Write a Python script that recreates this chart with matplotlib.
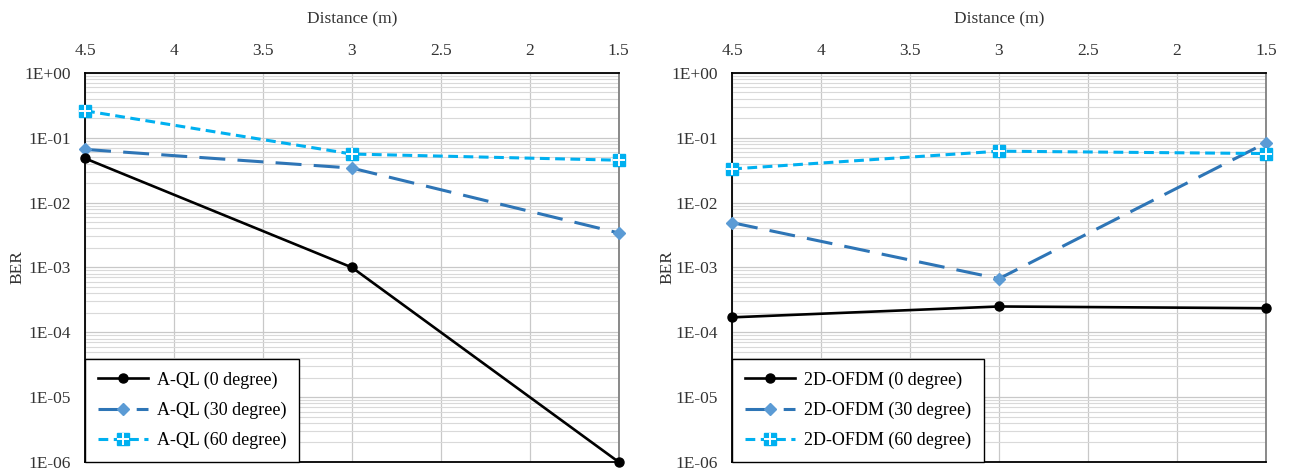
import matplotlib.pyplot as plt
from matplotlib.ticker import FixedLocator, NullFormatter

distance = [4.5, 3.0, 1.5]

aql_0 = [4.8e-2, 1.0e-3, 1.0e-6]
aql_30 = [6.6e-2, 3.4e-2, 3.4e-3]
aql_60 = [2.6e-1, 5.6e-2, 4.5e-2]

ofdm_0 = [1.7e-4, 2.5e-4, 2.35e-4]
ofdm_30 = [4.9e-3, 6.7e-4, 8.3e-2]
ofdm_60 = [3.3e-2, 6.2e-2, 5.7e-2]

x_ticks = [4.5, 4, 3.5, 3, 2.5, 2, 1.5]
x_tick_labels = ['4.5', '4', '3.5', '3', '2.5', '2', '1.5']
y_ticks = [1e0, 1e-1, 1e-2, 1e-3, 1e-4, 1e-5, 1e-6]
y_tick_labels = ['1E+00', '1E-01', '1E-02', '1E-03', '1E-04', '1E-05', '1E-06']

plt.rcParams['font.family'] = ['Liberation Serif', 'DejaVu Serif']
plt.rcParams['font.size'] = 12.5


def draw(ax, name, s0, s30, s60, label_x):
    ax.set_yscale('log')
    ax.set_xlim(4.5, 1.5)
    ax.set_ylim(1e-6, 1e0)

    l0, = ax.plot(distance, s0, color='black', lw=1.9, marker='o', ms=6.5,
                  zorder=5, clip_on=False)
    l30, = ax.plot(distance, s30, color='#2e75b6', lw=2.2, dashes=(8.5, 4),
                   marker='D', ms=6, mfc='#5b9bd5', mec='#5b9bd5', zorder=4,
                   clip_on=False)
    l60, = ax.plot(distance, s60, color='#00b0f0', lw=2.2, dashes=(3.2, 1.8),
                   marker='s', ms=8.5, mfc='#00b0f0', mec='#00b0f0', zorder=4,
                   clip_on=False)
    l60b, = ax.plot(distance, s60, ls='none', marker='+', ms=8.5, mew=1.4,
                    color='white', zorder=4.5, clip_on=False)

    ax.xaxis.set_major_locator(FixedLocator(x_ticks))
    ax.set_xticklabels(x_tick_labels)
    ax.xaxis.tick_top()
    ax.xaxis.set_label_position('top')
    ax.set_xlabel('Distance (m)', labelpad=14, color='#333333')
    ax.yaxis.set_major_locator(FixedLocator(y_ticks))
    ax.set_yticklabels(y_tick_labels)
    ax.yaxis.set_minor_formatter(NullFormatter())
    ax.set_ylabel('BER', color='#333333')
    ax.yaxis.set_label_coords(label_x, 0.5)
    ax.tick_params(which='both', length=0, pad=10, colors='#333333')

    ax.grid(True, which='major', color='#c8c8c8', lw=0.9)
    ax.grid(True, which='minor', axis='y', color='#d9d9d9', lw=0.8)
    ax.set_axisbelow(True)

    for side in ['left', 'top', 'bottom']:
        ax.spines[side].set_color('black')
        ax.spines[side].set_linewidth(1.3)
    ax.spines['right'].set_color('#808080')
    ax.spines['right'].set_linewidth(1.3)

    leg = ax.legend([l0, l30, (l60, l60b)],
                    [f'{name} (0 degree)', f'{name} (30 degree)', f'{name} (60 degree)'],
                    loc='lower left', fancybox=False, framealpha=1, fontsize=13,
                    edgecolor='black', borderpad=0.7, labelspacing=0.72,
                    handlelength=2.8, handletextpad=0.5, borderaxespad=0)
    leg.get_frame().set_linewidth(1.0)


fig = plt.figure(figsize=(12.89, 4.74), dpi=100)
ax1 = fig.add_axes([0.066, 0.0253, 0.414, 0.821])
ax2 = fig.add_axes([0.568, 0.0253, 0.414, 0.821])

draw(ax1, 'A-QL', aql_0, aql_30, aql_60, -0.112)
draw(ax2, '2D-OFDM', ofdm_0, ofdm_30, ofdm_60, -0.107)

fig.savefig('out.png', dpi=100)
